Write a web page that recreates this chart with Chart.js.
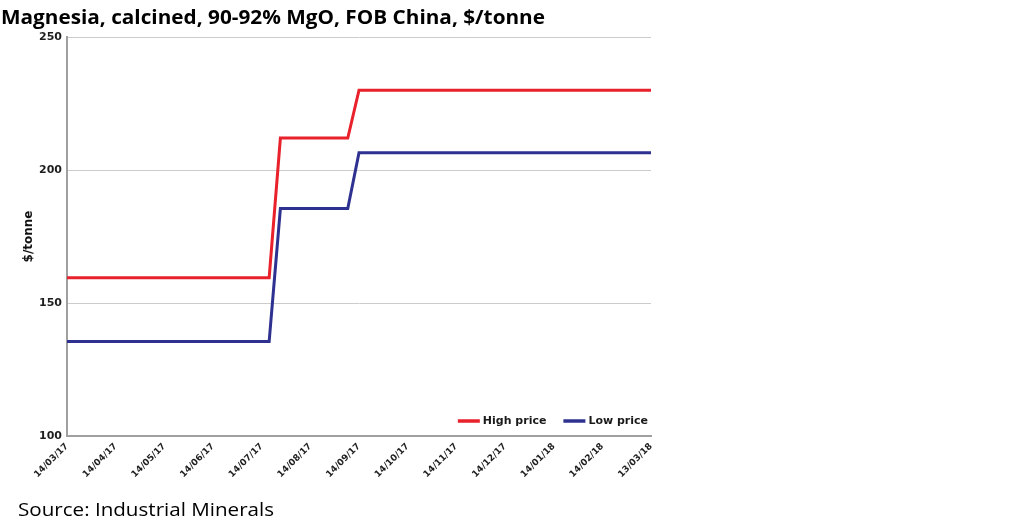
<!DOCTYPE html>
<html>
<head>
<meta charset="utf-8">
<script src="https://cdn.jsdelivr.net/npm/chart.js@4"></script>
<style>
  html, body { margin: 0; padding: 0; background: #fff; width: 1024px; height: 529px; overflow: hidden; }
  #wrap { position: relative; width: 1024px; height: 529px; }
  canvas { position: absolute; left: 0; top: 0; }
  .txt { position: absolute; white-space: nowrap; transform-origin: 0 0; color: #000; }
  #title { left: 1px; top: 3px; font: bold 20px "Open Sans", "Liberation Sans", sans-serif; }
  #source { left: 18px; top: 496px; font: 19px "Open Sans", Lato, sans-serif; }
</style>
</head>
<body>
<div id="wrap">
  <canvas id="c" width="1024" height="529"></canvas>
  <div id="title" class="txt">Magnesia, calcined, 90-92% MgO, FOB China, $/tonne</div>
  <div id="source" class="txt">Source: Industrial Minerals</div>
</div>
<script>
// ---- data (weeks since 14/03/17, weekly price assessments) ----
const weeks = [0, 18, 19, 25, 26, 52];
const highPrice = [159.5, 159.5, 212, 212, 230, 230];
const lowPrice = [135.5, 135.5, 185.5, 185.5, 206.5, 206.5];
const tickLabels = ['14/03/17','14/04/17','14/05/17','14/06/17','14/07/17','14/08/17','14/09/17','14/10/17','14/11/17','14/12/17','14/01/18','14/02/18','13/03/18'];
const seriesNames = ['High price', 'Low price'];
const seriesColors = ['#e8212b', '#2e3190'];
const yTicks = [100, 150, 200, 250];

function fitWidth(id, w) {
  const el = document.getElementById(id);
  const r = el.getBoundingClientRect();
  el.style.transform = 'scaleX(' + (w / r.width) + ')';
}
fitWidth('title', 544);
fitWidth('source', 256);

const toPts = (ys) => weeks.map((w, i) => ({ x: w, y: ys[i] }));

const legendPlugin = {
  id: 'innerLegend',
  afterDraw(chart) {
    const ctx = chart.ctx;
    const area = chart.chartArea;
    ctx.save();
    ctx.font = 'bold 11px "DejaVu Sans", sans-serif';
    ctx.textBaseline = 'middle';
    const y = 421;
    const sample = 22, gapText = 3, gapItem = 17;
    let x = area.right - 3;
    const items = chart.data.datasets.map(d => ({ label: d.label, color: d.borderColor })).reverse();
    items.forEach(it => {
      const tw = ctx.measureText(it.label).width;
      x -= tw;
      ctx.fillStyle = '#1a1a1a';
      ctx.textAlign = 'left';
      ctx.fillText(it.label, x, y);
      x -= gapText;
      ctx.strokeStyle = it.color;
      ctx.lineWidth = 3.5;
      ctx.beginPath();
      ctx.moveTo(x - sample, y);
      ctx.lineTo(x, y);
      ctx.stroke();
      x -= sample + gapItem;
    });
    ctx.restore();
  }
};

new Chart(document.getElementById('c'), {
  type: 'line',
  data: {
    datasets: [
      { label: seriesNames[0], data: toPts(highPrice), borderColor: seriesColors[0], borderWidth: 3, pointRadius: 0, tension: 0, fill: false },
      { label: seriesNames[1], data: toPts(lowPrice), borderColor: seriesColors[1], borderWidth: 3, pointRadius: 0, tension: 0, fill: false }
    ]
  },
  options: {
    responsive: false,
    animation: false,
    devicePixelRatio: 1,
    layout: { padding: { left: 0, top: 37, right: 373, bottom: 0 } },
    plugins: { legend: { display: false }, tooltip: { enabled: false } },
    scales: {
      x: {
        type: 'linear',
        min: weeks[0],
        max: weeks[weeks.length - 1],
        afterBuildTicks(scale) {
          scale.ticks = tickLabels.map((_, i) => ({ value: i * 52 / (tickLabels.length - 1) }));
        },
        afterFit(scale) { scale.height = 93; },
        grid: { display: false, drawTicks: false },
        border: { display: true, color: '#a0a0a0', width: 2 },
        ticks: {
          autoSkip: false,
          minRotation: 45,
          maxRotation: 45,
          padding: 5,
          color: '#1e1e1e',
          font: { family: '"DejaVu Sans", sans-serif', size: 9, weight: 'bold' },
          callback: (v, i) => tickLabels[i]
        }
      },
      y: {
        min: 100,
        max: 250,
        afterBuildTicks(scale) { scale.ticks = yTicks.map(v => ({ value: v })); },
        afterFit(scale) { scale.width = 67; },
        grid: { color: '#cccccc', lineWidth: 1, drawTicks: false },
        border: { display: true, color: '#a0a0a0', width: 2 },
        ticks: {
          padding: 5,
          color: '#1e1e1e',
          font: { family: '"DejaVu Sans", sans-serif', size: 11, weight: 'bold' }
        },
        title: {
          display: true,
          text: '$/tonne',
          color: '#111',
          padding: { top: 22, bottom: 0 },
          font: { family: '"DejaVu Sans", sans-serif', size: 12, weight: 'bold' }
        }
      }
    }
  },
  plugins: [legendPlugin]
});
</script>
</body>
</html>
